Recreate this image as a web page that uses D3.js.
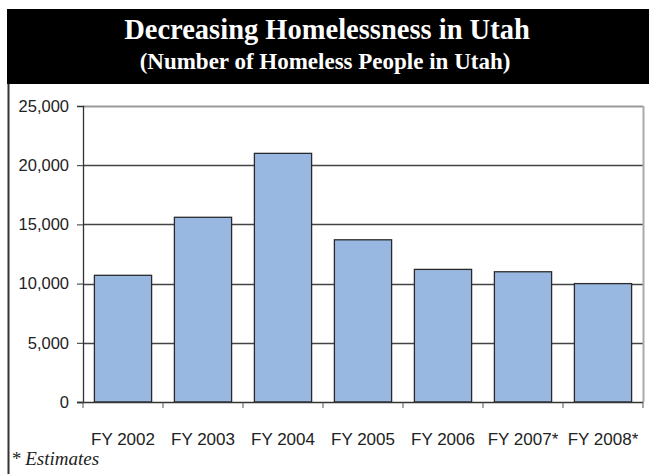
<!DOCTYPE html>
<html>
<head>
<meta charset="utf-8">
<script src="https://cdn.jsdelivr.net/npm/d3@7"></script>
<style>
  html, body { margin: 0; padding: 0; background: #fff; }
  svg { display: block; }
</style>
</head>
<body>
<svg id="chart" width="649" height="474"></svg>
<script>
// Homeless population counts by fiscal year
const categories = ["FY 2002", "FY 2003", "FY 2004", "FY 2005", "FY 2006", "FY 2007*", "FY 2008*"];
const homeless = [10700, 15600, 21000, 13700, 11200, 11000, 10000];
const yTicks = [0, 5000, 10000, 15000, 20000, 25000];

const svg = d3.select("#chart");
const W = 649, H = 474;
const plot = { left: 83, right: 643, top: 106, bottom: 402 };
const serif = "'Liberation Serif', 'Times New Roman', serif";
const sans = "'Liberation Sans', Arial, sans-serif";

// Title banner
svg.append("rect")
  .attr("x", 7).attr("y", 9).attr("width", W - 7).attr("height", 75)
  .attr("fill", "#000");
svg.append("text")
  .attr("x", 327).attr("y", 39)
  .attr("text-anchor", "middle")
  .attr("font-family", serif)
  .attr("font-weight", "bold").attr("font-size", 28.5)
  .attr("fill", "#fff")
  .text("Decreasing Homelessness in Utah");
svg.append("text")
  .attr("x", 325).attr("y", 69)
  .attr("text-anchor", "middle")
  .attr("font-family", serif)
  .attr("font-weight", "bold").attr("font-size", 23)
  .attr("fill", "#fff")
  .text("(Number of Homeless People in Utah)");

// Frame left edge
svg.append("line")
  .attr("x1", 8.5).attr("x2", 8.5).attr("y1", 84).attr("y2", H)
  .attr("stroke", "#333").attr("stroke-width", 2);

const x = d3.scaleBand().domain(categories)
  .range([plot.left, plot.right]).paddingInner(0.285).paddingOuter(0.1425);
const y = d3.scaleLinear().domain([0, 25000]).range([plot.bottom, plot.top]);

// Gridlines
svg.append("g").selectAll("line")
  .data(yTicks.filter(d => d > 0))
  .join("line")
  .attr("x1", plot.left).attr("x2", plot.right)
  .attr("y1", d => Math.round(y(d)) + 0.5).attr("y2", d => Math.round(y(d)) + 0.5)
  .attr("stroke", d => d === 25000 ? "#999" : "#444")
  .attr("stroke-width", d => d === 25000 ? 2 : 1.3);

// Right border of plot area
svg.append("line")
  .attr("x1", plot.right + 0.5).attr("x2", plot.right + 0.5)
  .attr("y1", plot.top).attr("y2", plot.bottom)
  .attr("stroke", "#aaa").attr("stroke-width", 2);

// Bars
svg.append("g").selectAll("rect")
  .data(homeless)
  .join("rect")
  .attr("x", (d, i) => x(categories[i]))
  .attr("y", d => y(d))
  .attr("width", x.bandwidth())
  .attr("height", d => plot.bottom - y(d))
  .attr("fill", "#98b8e1")
  .attr("stroke", "#2a2a2a")
  .attr("stroke-width", 1.3);

// Y axis
const yAxis = svg.append("g")
  .attr("transform", `translate(${plot.left},0)`)
  .call(d3.axisLeft(y).tickValues(yTicks).tickFormat(d3.format(",")).tickSize(6).tickPadding(8));
yAxis.select(".domain").attr("stroke", "#333").attr("stroke-width", 1.3);
yAxis.selectAll(".tick line").attr("stroke", "#333");
yAxis.selectAll("text")
  .attr("font-family", sans)
  .attr("font-size", 16.5).attr("fill", "#222");

// X axis with boundary ticks between categories
const xAxis = svg.append("g")
  .attr("transform", `translate(0,${plot.bottom})`);
xAxis.append("line")
  .attr("x1", plot.left - 6).attr("x2", plot.right)
  .attr("y1", 0.5).attr("y2", 0.5)
  .attr("stroke", "#333").attr("stroke-width", 1.3);
const step = x.step();
const bounds = d3.range(categories.length + 1).map(i => plot.left + i * step);
xAxis.selectAll("line.bt")
  .data(bounds)
  .join("line").attr("class", "bt")
  .attr("x1", d => d).attr("x2", d => d)
  .attr("y1", 0).attr("y2", 6)
  .attr("stroke", "#555");
xAxis.selectAll("text")
  .data(categories)
  .join("text")
  .attr("x", d => x(d) + x.bandwidth() / 2)
  .attr("y", 43)
  .attr("text-anchor", "middle")
  .attr("font-family", sans)
  .attr("font-size", 17).attr("fill", "#222")
  .text(d => d);

// Footnote
svg.append("text")
  .attr("x", 11).attr("y", 465)
  .attr("font-family", serif)
  .attr("font-style", "italic").attr("font-size", 19)
  .attr("fill", "#222")
  .text("* Estimates");
</script>
</body>
</html>
